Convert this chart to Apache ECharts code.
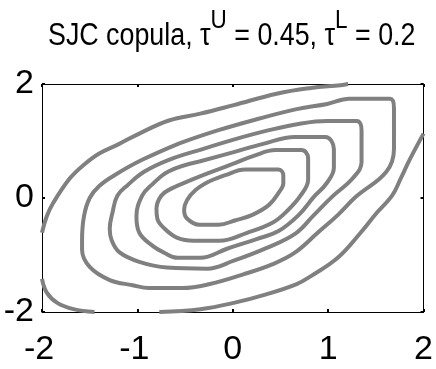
<!DOCTYPE html>
<html>
<head>
<meta charset="utf-8">
<script src="https://cdn.jsdelivr.net/npm/echarts@6/dist/echarts.min.js"></script>
<style>
html,body{margin:0;padding:0;background:#fff;}
#chart{width:436px;height:369px;}
</style>
</head>
<body>
<div id="chart"></div>
<script>
// ---- data (axis units) ----
const xTicks = [-2, -1, 0, 1, 2];
const yTicks = [-2, 0, 2];
const titleParts = ['SJC copula, τ', 'U', ' = 0.45, τ', 'L', ' = 0.2'];

// contour levels, innermost (c1) to outermost (c6)
const c1 = [[-0.25,0.29],[-0.08,0.40],[0.13,0.50],[0.48,0.50],[0.53,0.40],[0.53,0.26],[0.48,0.09],[0.38,-0.12],[0.20,-0.30],[0.03,-0.39],[-0.15,-0.47],[-0.35,-0.47],[-0.48,-0.36],[-0.51,-0.21],[-0.48,-0.04],[-0.39,0.14],[-0.25,0.29]];
const c2 = [[-0.25,0.44],[0,0.60],[0.22,0.74],[0.45,0.84],[0.72,0.84],[0.79,0.70],[0.79,0.32],[0.71,0.04],[0.58,-0.21],[0.42,-0.43],[0.15,-0.61],[-0.14,-0.75],[-0.41,-0.75],[-0.58,-0.70],[-0.72,-0.53],[-0.79,-0.37],[-0.80,-0.19],[-0.75,0.04],[-0.65,0.16],[-0.46,0.30],[-0.25,0.44]];
const c3 = [[-0.35,0.64],[0,0.80],[0.32,0.95],[0.65,1.07],[0.97,1.07],[1.06,0.86],[1.06,0.53],[0.98,0.25],[0.85,0.02],[0.69,-0.30],[0.48,-0.58],[0.25,-0.72],[-0.06,-0.89],[-0.34,-1.05],[-0.58,-1.05],[-0.72,-0.96],[-0.84,-0.84],[-0.98,-0.61],[-1.01,-0.32],[-0.95,0.04],[-0.85,0.23],[-0.67,0.47],[-0.35,0.64]];
const c4 = [[-0.35,0.84],[0,1.02],[0.38,1.19],[0.69,1.30],[0.99,1.35],[1.30,1.35],[1.35,1.19],[1.35,0.63],[1.26,0.35],[1.04,0.02],[0.85,-0.30],[0.66,-0.62],[0.35,-0.88],[0.01,-1.10],[-0.27,-1.24],[-0.69,-1.22],[-0.98,-1.12],[-1.19,-0.95],[-1.27,-0.74],[-1.29,-0.54],[-1.26,-0.25],[-1.21,0.04],[-1.10,0.23],[-0.93,0.46],[-0.67,0.67],[-0.35,0.84]];
const c5 = [[-0.56,0.96],[-0.15,1.19],[0.27,1.39],[0.67,1.56],[0.99,1.65],[1.22,1.74],[1.65,1.74],[1.69,1.57],[1.69,0.86],[1.61,0.46],[1.29,0.02],[1.10,-0.30],[0.89,-0.61],[0.65,-0.96],[0.42,-1.16],[0.11,-1.34],[-0.24,-1.51],[-0.53,-1.58],[-0.88,-1.58],[-1.05,-1.53],[-1.29,-1.44],[-1.50,-1.21],[-1.58,-0.91],[-1.58,-0.74],[-1.56,-0.32],[-1.50,0],[-1.40,0.21],[-1.24,0.40],[-0.95,0.67],[-0.56,0.96]];
const c6upper = [[-2.00,-0.61],[-1.95,-0.32],[-1.88,-0.08],[-1.71,0.34],[-1.57,0.57],[-1.40,0.78],[-1.19,0.95],[-0.98,1.13],[-0.67,1.36],[-0.34,1.48],[0.01,1.63],[0.46,1.83],[0.82,1.93],[1.13,1.98],[1.21,2.00]];
const c6lowerLeft = [[-2.00,-1.42],[-1.95,-1.66],[-1.84,-1.84],[-1.67,-1.95],[-1.45,-2.00]];
const c6lowerRight = [[-0.77,-2.00],[-0.34,-1.95],[0.01,-1.84],[0.35,-1.69],[0.67,-1.51],[0.82,-1.37],[1.10,-1.05],[1.34,-0.61],[1.51,-0.26],[1.67,0.04],[1.76,0.34],[1.86,0.69],[2.00,1.13]];

const contourPieces = [c1, c2, c3, c4, c5, c6upper, c6lowerLeft, c6lowerRight];

// ---- styling ----
const FONT = "'Liberation Sans Narrow', 'Arial Narrow', 'Liberation Sans', Arial, sans-serif";
const LINE_COLOR = '#808080';

const chart = echarts.init(document.getElementById('chart'), null, {renderer: 'canvas'});

function xLabel(v) {
  return v < 0 ? '{n|' + v + '}' : '{p|' + v + '}';
}

const axisCommon = {
  type: 'value',
  min: -2,
  max: 2,
  splitLine: {show: false},
  axisLine: {show: true, onZero: false, lineStyle: {color: '#000', width: 1}},
  axisTick: {show: true, inside: true, length: 3, lineStyle: {color: '#000', width: 2}}
};

const option = {
  backgroundColor: '#fff',
  animation: false,
  graphic: [{
    type: 'text',
    x: 48,
    y: 8,
    scaleX: 0.865,
    silent: true,
    style: {
      text: '{a|' + titleParts[0] + '}{s|' + titleParts[1] + '}{a|' + titleParts[2] + '}{s|' + titleParts[3] + '}{a|' + titleParts[4] + '}',
      align: 'left',
      verticalAlign: 'top',
      fill: '#000',
      rich: {
        a: {fontFamily: FONT, fontSize: 31, fontWeight: 'normal', fill: '#000', lineHeight: 43.5, verticalAlign: 'bottom'},
        s: {fontFamily: FONT, fontSize: 26, fontWeight: 'normal', fill: '#000', lineHeight: 26, verticalAlign: 'top'}
      }
    }
  }],
  grid: {left: 42, right: 10, top: 84, bottom: 57, containLabel: false, show: false},
  xAxis: [
    Object.assign({}, axisCommon, {
      position: 'bottom',
      interval: 1,
      axisLabel: {
        show: true, margin: 21, color: '#000', fontFamily: FONT, fontSize: 34,
        formatter: xLabel,
        rich: {
          n: {fontFamily: FONT, fontSize: 34, color: '#000', padding: [0, 6, 0, 0]},
          p: {fontFamily: FONT, fontSize: 34, color: '#000'}
        }
      }
    }),
    Object.assign({}, axisCommon, {
      position: 'top',
      interval: 1,
      axisLabel: {show: false}
    })
  ],
  yAxis: [
    Object.assign({}, axisCommon, {
      position: 'left',
      interval: 2,
      axisLabel: {show: true, margin: 8, color: '#000', fontFamily: FONT, fontSize: 34}
    }),
    Object.assign({}, axisCommon, {
      position: 'right',
      interval: 2,
      axisLabel: {show: false}
    })
  ],
  series: contourPieces.map((pts, i) => ({
    type: 'line',
    name: 'contour' + i,
    xAxisIndex: 0,
    yAxisIndex: 0,
    data: pts,
    showSymbol: false,
    symbol: 'none',
    smooth: 0.4,
    clip: true,
    lineStyle: {color: LINE_COLOR, width: 4},
    silent: true
  }))
};

chart.setOption(option);
</script>
</body>
</html>
